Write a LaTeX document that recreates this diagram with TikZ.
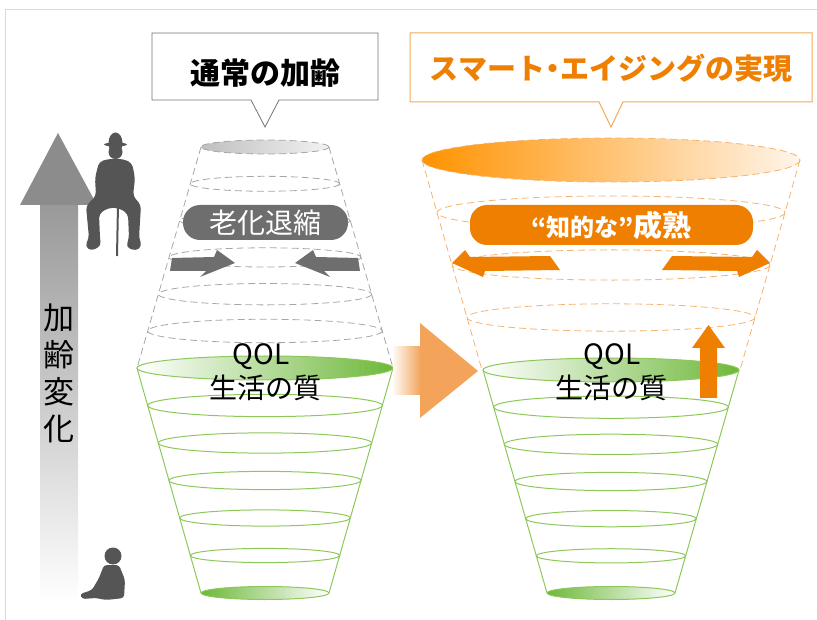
\documentclass[tikz,border=0pt]{standalone}
\usepackage{fontspec}
\setmainfont{Noto Sans CJK JP}
\usetikzlibrary{positioning}

\definecolor{qolgreen}{HTML}{6DB83A}
\definecolor{qolline}{HTML}{8DC85A}
\definecolor{deeporange}{HTML}{EE7F00}
\definecolor{softorange}{HTML}{F5B36E}
\definecolor{bigarrow}{HTML}{F3A35A}
\definecolor{shrinkgray}{HTML}{6E6E6E}
\definecolor{figgray}{HTML}{555555}

\tikzset{
    titletext/.style={font=\bfseries\fontsize{30}{30}\selectfont, inner sep=0pt},
    pill/.style={rounded corners=17pt, inner sep=0pt, text=white},
    qoltext/.style={font=\fontsize{28}{28}\selectfont, inner sep=0pt},
    agetext/.style={font=\fontsize{31}{31}\selectfont, inner sep=0pt},
    graydash/.style={draw=black!35, dash pattern=on 7pt off 4pt, line width=0.8pt},
    orangedash/.style={draw=softorange, dash pattern=on 7pt off 4pt, line width=0.8pt},
    qolring/.style={draw=qolline, line width=1pt},
  }

\begin{document}
\begin{tikzpicture}[x=1pt,y=-1pt]
	\useasboundingbox (0,0) rectangle (817,620);
	\draw[black!15] (5,620) -- (5,9) -- (817,9);

	% ageing arrow on the left
	\shade[top color=black!40, bottom color=white] (40,204) rectangle (78,603);
	\fill[black!45] (20,205) -- (58,133) -- (97,205) -- cycle;
	\foreach \c [count=\i] in {加,齢,変,化}
		\node[agetext] (age\i) at (59,{281+37*\i}) {\c};

	% old man on a stool
	\fill[figgray, rounded corners=4pt] (99,162) -- (108,159) -- (123,159) -- (132,163) -- (135,178) -- (133,196) -- (141,205) -- (139,238) -- (142,246) -- (136,251) -- (126,247) -- (129,238) -- (128,214) -- (119,208) -- (108,208) -- (99,214) -- (100,238) -- (101,246) -- (91,251) -- (85,246) -- (89,238) -- (86,206) -- (96,196) -- (95,178) -- cycle;
	\fill[figgray] (115.5,152) circle (7);
	\fill[figgray] (115.5,144.5) ellipse (11.5 and 2);
	\fill[figgray] (115.5,143) ellipse (7 and 10.5);
	\draw[figgray, line width=2pt] (118,205) -- (117,256);

	% baby
	\fill[figgray] (113,556) circle (8.5);
	\fill[figgray, rounded corners=3pt] (104,565) -- (119,565) -- (125,580) -- (124,598) -- (106,600) -- (96,598) -- (82,599) -- (80,594) -- (92,590) -- (99,578) -- cycle;

	% call-out boxes
	\draw[black!55, fill=white, line width=0.8pt] (152,33) -- (378,33) -- (378,100) -- (279,100) -- (265,127) -- (251,100) -- (152,100) -- cycle;
	\node[titletext] (plaintitle) at (265,73) {通常の加齢};
	\draw[softorange!80!deeporange, fill=white, line width=1pt] (410,33) -- (812,33) -- (812,102) -- (623,102) -- (611,127) -- (599,102) -- (410,102) -- cycle;
	\node[titletext, font=\bfseries\fontsize{29}{29}\selectfont, text=deeporange] (smarttitle) at (611,68) {スマート\kern-7pt・\kern-7ptエイジングの実現};

	% upper part of the plain cone
	\pgfmathsetmacro\cxL{265}
	\draw[graydash, left color=black!25, right color=black!5] (\cxL,147) ellipse (64 and 7);
	\draw[graydash] (201,147) -- (137,368) (329,147) -- (393,368);
	\foreach \i in {1,...,5}{
		\pgfmathsetmacro\y{147+\i*36.8}
		\pgfmathsetmacro\rx{64+(\y-147)*64/221}
		\draw[graydash] (\cxL,\y) ellipse ({\rx} and {0.1*\rx});
	}

	% upper part of the smart cone
	\pgfmathsetmacro\cxR{611}
	\draw[orangedash, left color=orange!85!yellow, right color=orange!8] (\cxR,160) ellipse (189 and 22);
	\draw[orangedash] (422,160) -- (482,370) (800,160) -- (740,370);
	\foreach \i in {1,2,3}{
		\pgfmathsetmacro\y{160+\i*52.5}
		\pgfmathsetmacro\rx{189-(\y-160)*60/210}
		\draw[orangedash] (\cxR,\y) ellipse ({\rx} and {0.095*\rx});
	}

	% QOL rings, same for both cones
	\foreach \cx/\ty in {265/368, 611/370}{
		\draw[qolring] ({\cx-128},\ty) -- ({\cx-64},593) ({\cx+128},\ty) -- ({\cx+64},593);
		\foreach \i in {1,...,5}{
			\pgfmathsetmacro\y{\ty+\i*(593-\ty)/6}
			\pgfmathsetmacro\rx{128-(\y-\ty)*64/(593-\ty)}
			\draw[qolring] (\cx,\y) ellipse ({\rx} and {0.095*\rx});
		}
		\draw[qolring, left color=white, right color=qolgreen] (\cx,\ty) ellipse (128 and 12);
		\draw[qolring, left color=qolgreen, right color=white] (\cx,593) ellipse (64 and 6.5);
	}
	\node[qoltext] (qolL) at (261,357) {QOL};
	\node[qoltext] (lifeL) at (265,388) {生活の質};
	\node[qoltext] (qolR) at (612,357) {QOL};
	\node[qoltext] (lifeR) at (611,388) {生活の質};

	% labels and side arrows
	\node[pill, fill=shrinkgray, minimum width=165pt, minimum height=35pt, font=\fontsize{28}{28}\selectfont] (shrink) at (265.5,222.5) {老化退縮};
	\foreach \s in {1,-1}
		\fill[shrinkgray, xshift=265, xscale=\s] (-93,258) -- (-51,257) -- (-48,250) -- (-30,263) -- (-65,277) -- (-59,271) -- (-95,271) -- cycle;
	\node[pill, fill=deeporange, minimum width=283pt, minimum height=40pt, font=\bfseries] (mature) at (611.5,225) {{\fontsize{24}{24}\selectfont “知的な”}{\fontsize{29}{29}\selectfont 成熟}};
	\foreach \s in {1,-1}
		\fill[deeporange, xshift=611, xscale=\s] (-159,263) -- (-146,250) -- (-141,257) -- (-61,256) -- (-51,270) -- (-126,271) -- (-128,277) -- cycle;

	% QOL goes up
	\fill[deeporange] (700,398) -- (700,348) -- (692,348) -- (708.5,325) -- (725,348) -- (717,348) -- (717,398) -- cycle;

	% from plain ageing to smart ageing
	\shade[left color=bigarrow!5, right color=bigarrow] (393,347) rectangle (421,395);
	\fill[bigarrow] (420,323) -- (478,371) -- (420,418) -- cycle;
\end{tikzpicture}
\end{document}
